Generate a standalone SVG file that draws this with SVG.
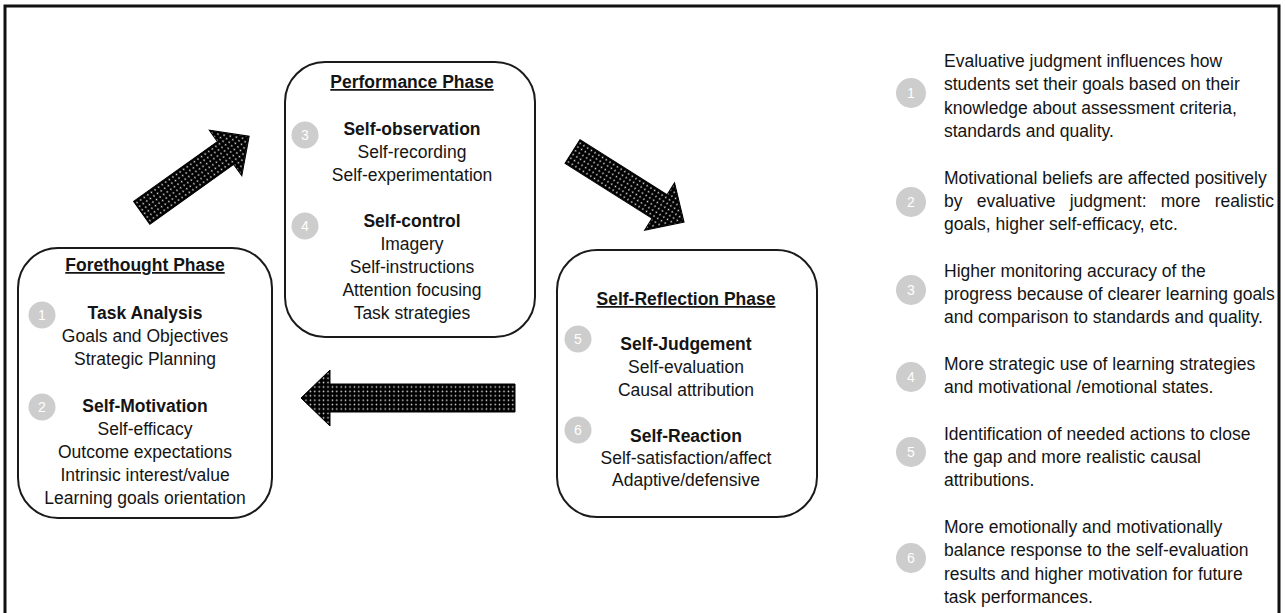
<svg xmlns="http://www.w3.org/2000/svg" width="1285" height="613" viewBox="0 0 1285 613">
  <style>
    .t { font-family: "Liberation Sans", Arial, sans-serif; font-size: 17.5px; fill: #141414; }
    .b { font-weight: bold; }
    .c { text-anchor: middle; }
    .u { text-decoration: underline; }
    .box { fill: #ffffff; stroke: #1a1a1a; stroke-width: 2; }
    .bub { fill: #cdcdcd; }
    .num { font-family: "Liberation Sans", Arial, sans-serif; font-size: 14px; fill: #ffffff; text-anchor: middle; }
    .arrow { fill: url(#dots); stroke: #000; stroke-width: 1; }
  </style>
  <defs>
    <pattern id="dots" patternUnits="userSpaceOnUse" width="4.4" height="4.4">
      <rect width="4.4" height="4.4" fill="#000"/>
      <circle cx="2.2" cy="2.2" r="0.8" fill="#e6e6e6"/>
    </pattern>
  </defs>

  <rect x="0" y="0" width="1285" height="613" fill="#ffffff"/>
  <rect x="5" y="6" width="1274" height="630" fill="none" stroke="#111" stroke-width="3"/>

  <g id="connectors">
    <path class="arrow" transform="translate(141.7,212.8) rotate(-35.5)" d="M0,-14 H103 V-28 L132,0 L103,28 V14 H0 Z"/>
    <path class="arrow" transform="translate(572.5,151.5) rotate(32.3)" d="M0,-14 H103 V-28 L132,0 L103,28 V14 H0 Z"/>
    <path class="arrow" transform="translate(515,398) rotate(180)" d="M0,-14 H185 V-28 L214,0 L185,28 V14 H0 Z"/>
  </g>

  <g id="forethought">
    <rect class="box" x="18" y="248" width="254" height="270" rx="40" ry="40"/>
    <text class="t b c u" x="145" y="271">Forethought Phase</text>
    <circle class="bub" cx="42" cy="315" r="13.5"/><text class="num" x="42" y="320">1</text>
    <text class="t b c" x="145" y="319">Task Analysis</text>
    <text class="t c" x="145" y="342">Goals and Objectives</text>
    <text class="t c" x="145" y="365">Strategic Planning</text>
    <circle class="bub" cx="42" cy="407" r="13.5"/><text class="num" x="42" y="412">2</text>
    <text class="t b c" x="145" y="412">Self-Motivation</text>
    <text class="t c" x="145" y="435">Self-efficacy</text>
    <text class="t c" x="145" y="458">Outcome expectations</text>
    <text class="t c" x="145" y="481">Intrinsic interest/value</text>
    <text class="t c" x="145" y="504">Learning goals orientation</text>
  </g>

  <g id="performance">
    <rect class="box" x="285" y="62" width="250" height="275" rx="40" ry="40"/>
    <text class="t b c u" x="412" y="88">Performance Phase</text>
    <circle class="bub" cx="305" cy="135" r="13.5"/><text class="num" x="305" y="140">3</text>
    <text class="t b c" x="412" y="135">Self-observation</text>
    <text class="t c" x="412" y="158">Self-recording</text>
    <text class="t c" x="412" y="181">Self-experimentation</text>
    <circle class="bub" cx="305" cy="226" r="13.5"/><text class="num" x="305" y="231">4</text>
    <text class="t b c" x="412" y="227">Self-control</text>
    <text class="t c" x="412" y="250">Imagery</text>
    <text class="t c" x="412" y="273">Self-instructions</text>
    <text class="t c" x="412" y="296">Attention focusing</text>
    <text class="t c" x="412" y="319">Task strategies</text>
  </g>

  <g id="selfreflection">
    <rect class="box" x="557" y="250" width="260" height="267" rx="40" ry="40"/>
    <text class="t b c u" x="686" y="305">Self-Reflection Phase</text>
    <circle class="bub" cx="578" cy="339" r="13.5"/><text class="num" x="578" y="344">5</text>
    <text class="t b c" x="686" y="350">Self-Judgement</text>
    <text class="t c" x="686" y="373">Self-evaluation</text>
    <text class="t c" x="686" y="396">Causal attribution</text>
    <circle class="bub" cx="578" cy="430" r="13.5"/><text class="num" x="578" y="435">6</text>
    <text class="t b c" x="686" y="442">Self-Reaction</text>
    <text class="t c" x="686" y="464">Self-satisfaction/affect</text>
    <text class="t c" x="686" y="486">Adaptive/defensive</text>
  </g>

  <g id="legend">
    <g id="legend-1">
      <circle class="bub" cx="911" cy="93" r="15"/><text class="num" x="911" y="98">1</text>
      <text class="t" x="944" y="67">Evaluative judgment influences how</text>
      <text class="t" x="944" y="90.3">students set their goals based on their</text>
      <text class="t" x="944" y="113.6">knowledge about assessment criteria,</text>
      <text class="t" x="944" y="136.9">standards and quality.</text>
    </g>
    <g id="legend-2">
      <circle class="bub" cx="911" cy="202" r="15"/><text class="num" x="911" y="207">2</text>
      <text class="t" x="944" y="183.5">Motivational beliefs are affected positively</text>
      <text class="t" y="206.8"><tspan x="944">by</tspan><tspan x="976.7">evaluative</tspan><tspan x="1069.7">judgment:</tspan><tspan x="1160.7">more</tspan><tspan x="1214.7">realistic</tspan></text>
      <text class="t" x="944" y="230.1">goals, higher self-efficacy, etc.</text>
    </g>
    <g id="legend-3">
      <circle class="bub" cx="911" cy="290" r="15"/><text class="num" x="911" y="295">3</text>
      <text class="t" x="944" y="276.7">Higher monitoring accuracy of the</text>
      <text class="t" x="944" y="300">progress because of clearer learning goals</text>
      <text class="t" x="944" y="323.3">and comparison to standards and quality.</text>
    </g>
    <g id="legend-4">
      <circle class="bub" cx="911" cy="377" r="15"/><text class="num" x="911" y="382">4</text>
      <text class="t" x="944" y="369.9">More strategic use of learning strategies</text>
      <text class="t" x="944" y="393.2">and motivational /emotional states.</text>
    </g>
    <g id="legend-5">
      <circle class="bub" cx="911" cy="452" r="15"/><text class="num" x="911" y="457">5</text>
      <text class="t" x="944" y="439.8">Identification of needed actions to close</text>
      <text class="t" x="944" y="463.1">the gap and more realistic causal</text>
      <text class="t" x="944" y="486.4">attributions.</text>
    </g>
    <g id="legend-6">
      <circle class="bub" cx="911" cy="558" r="15"/><text class="num" x="911" y="563">6</text>
      <text class="t" x="944" y="533">More emotionally and motivationally</text>
      <text class="t" x="944" y="556.3">balance response to the self-evaluation</text>
      <text class="t" x="944" y="579.6">results and higher motivation for future</text>
      <text class="t" x="944" y="602.9">task performances.</text>
    </g>
  </g>
</svg>
